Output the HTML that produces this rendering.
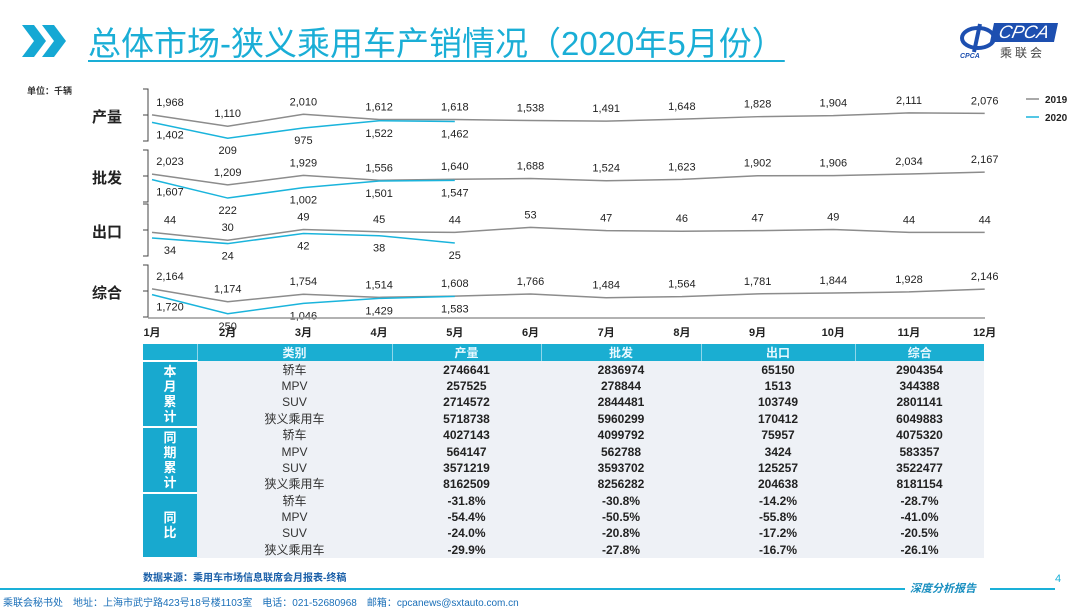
<!DOCTYPE html>
<html><head><meta charset="utf-8">
<style>
body{margin:0;width:1080px;height:608px;background:#fff;overflow:hidden;position:relative;font-family:"Liberation Sans","Noto Sans CJK SC",sans-serif;}
.abs{position:absolute}
#title{left:88px;top:17px;font-size:33px;color:#1aaed6;text-decoration:underline;text-decoration-thickness:2px;text-underline-offset:5px;white-space:nowrap;font-family:"Liberation Sans","Noto Sans CJK SC",sans-serif;}
table{position:absolute;left:143px;top:344px;width:841px;border-collapse:collapse;font-size:12px;}
td{height:16.4px;padding:0;text-align:center;line-height:16px;}
tr.hd td{background:#1aaed2;color:#e8f8ff;font-weight:bold;border-left:1px solid #8fd6ea}
td.g{background:#18a9cf;color:#fff;font-weight:bold;font-size:13px;line-height:15px;border-bottom:2px solid #fff;border-top:2px solid #fff}
td.c{color:#333}
td.n{font-weight:bold;color:#222}
tbody tr:not(.hd) td:not(.g){background:#eef1f6}
</style></head><body>
<svg class="abs" style="left:22px;top:25px" width="46" height="32">
<polygon points="0,0 12,0 24,16 12,32 0,32 12,16" fill="#15a8d4"/>
<polygon points="20,0 32,0 44,16 32,32 20,32 32,16" fill="#15a8d4"/>
</svg>
<div id="title" class="abs">总体市场-狭义乘用车产销情况（2020年5月份）</div>
<div class="abs" style="left:958px;top:22px;width:100px;height:38px">
<svg width="40" height="38" class="abs" style="left:0;top:0"><ellipse cx="20" cy="16" rx="16" ry="10" fill="none" stroke="#1d4fb0" stroke-width="4"/><path d="M22 2 L16 30" stroke="#1d4fb0" stroke-width="4"/><text x="2" y="36" font-size="7" fill="#1d4fb0" font-style="italic" font-weight="bold">CPCA</text></svg>
<div class="abs" style="left:34px;top:1px;width:64px;height:19px;background:#1d4fb0;color:#fff;font-size:18px;font-style:italic;line-height:19px;text-align:center;transform:skewX(-12deg)">CPCA</div>
<div class="abs" style="left:42px;top:22px;font-size:12px;color:#444;letter-spacing:3px">乘联会</div>
</div>
<div class="abs" style="left:27px;top:84px;font-size:9px;font-weight:bold;color:#333">单位：千辆</div>

<svg id="chart" class="abs" style="left:0;top:0" width="1080" height="340"></svg>

<table>
<colgroup><col style="width:54px"><col style="width:195px"><col style="width:149px"><col style="width:160px"><col style="width:154px"><col style="width:129px"></colgroup>
<tr class="hd"><td style="border-left:none"></td><td>类别</td><td>产量</td><td>批发</td><td>出口</td><td>综合</td></tr>
<tr><td class="g" rowspan="4">本<br>月<br>累<br>计</td><td class="c">轿车</td><td class="n">2746641</td><td class="n">2836974</td><td class="n">65150</td><td class="n">2904354</td></tr>
<tr><td class="c">MPV</td><td class="n">257525</td><td class="n">278844</td><td class="n">1513</td><td class="n">344388</td></tr>
<tr><td class="c">SUV</td><td class="n">2714572</td><td class="n">2844481</td><td class="n">103749</td><td class="n">2801141</td></tr>
<tr><td class="c">狭义乘用车</td><td class="n">5718738</td><td class="n">5960299</td><td class="n">170412</td><td class="n">6049883</td></tr>
<tr><td class="g" rowspan="4">同<br>期<br>累<br>计</td><td class="c">轿车</td><td class="n">4027143</td><td class="n">4099792</td><td class="n">75957</td><td class="n">4075320</td></tr>
<tr><td class="c">MPV</td><td class="n">564147</td><td class="n">562788</td><td class="n">3424</td><td class="n">583357</td></tr>
<tr><td class="c">SUV</td><td class="n">3571219</td><td class="n">3593702</td><td class="n">125257</td><td class="n">3522477</td></tr>
<tr><td class="c">狭义乘用车</td><td class="n">8162509</td><td class="n">8256282</td><td class="n">204638</td><td class="n">8181154</td></tr>
<tr><td class="g" rowspan="4">同<br>比</td><td class="c">轿车</td><td class="n">-31.8%</td><td class="n">-30.8%</td><td class="n">-14.2%</td><td class="n">-28.7%</td></tr>
<tr><td class="c">MPV</td><td class="n">-54.4%</td><td class="n">-50.5%</td><td class="n">-55.8%</td><td class="n">-41.0%</td></tr>
<tr><td class="c">SUV</td><td class="n">-24.0%</td><td class="n">-20.8%</td><td class="n">-17.2%</td><td class="n">-20.5%</td></tr>
<tr><td class="c">狭义乘用车</td><td class="n">-29.9%</td><td class="n">-27.8%</td><td class="n">-16.7%</td><td class="n">-26.1%</td></tr>
</table>

<div class="abs" style="left:143px;top:569px;font-size:10px;font-weight:bold;color:#1a5fa8">数据来源：乘用车市场信息联席会月报表-终稿</div>
<div class="abs" style="left:0;top:588px;width:905px;height:2px;background:#1ab0d8"></div>
<div class="abs" style="left:990px;top:588px;width:65px;height:2px;background:#1ab0d8"></div>
<div class="abs" style="left:910px;top:580px;font-size:11px;font-style:italic;font-weight:bold;color:#1a8fc0">深度分析报告</div>
<div class="abs" style="left:1055px;top:573px;font-size:11px;color:#1ab0d8">4</div>
<div class="abs" style="left:3px;top:594px;font-size:10px;color:#1a6fb8;white-space:nowrap">乘联会秘书处　地址：上海市武宁路423号18号楼1103室　电话：021-52680968　邮箱：cpcanews@sxtauto.com.cn</div>

<script>
const months=['1月','2月','3月','4月','5月','6月','7月','8月','9月','10月','11月','12月'];
const panelNames=['产量','批发','出口','综合'];
const prod2019=[1968,1110,2010,1612,1618,1538,1491,1648,1828,1904,2111,2076];
const prod2020=[1402,209,975,1522,1462];
const whole2019=[2023,1209,1929,1556,1640,1688,1524,1623,1902,1906,2034,2167];
const whole2020=[1607,222,1002,1501,1547];
const exp2019=[44,30,49,45,44,53,47,46,47,49,44,44];
const exp2020=[34,24,42,38,25];
const comb2019=[2164,1174,1754,1514,1608,1766,1484,1564,1781,1844,1928,2146];
const comb2020=[1720,250,1046,1429,1583];
const series2019=[prod2019,whole2019,exp2019,comb2019];
const series2020=[prod2020,whole2020,exp2020,comb2020];
const panelBase=[141,201,257,317];
const panelK=[0.0133,0.0133,0.56,0.013];
const NS='http://www.w3.org/2000/svg';
const svg=document.getElementById('chart');
function x(i){return 152+i*75.7;}
function y(p,v){return panelBase[p]-v*panelK[p];}
function mk(t,a){const e=document.createElementNS(NS,t);for(const k in a)e.setAttribute(k,a[k]);svg.appendChild(e);return e;}
function fmt(v){return v.toLocaleString('en-US');}
const tops=[89,150,204,265];
for(let p=0;p<4;p++){
  const br=mk('path',{d:`M143 ${tops[p]} H148 V${tops[p]+52} H143 M148 ${tops[p]+26} H143`,stroke:'#444',fill:'none','stroke-width':1});
  
  
  const pn=mk('text',{x:92,y:tops[p]+33,'font-size':15,'font-weight':'bold',fill:'#222'});
  pn.textContent=panelNames[p];
  
  
  const a=series2019[p],b=series2020[p];
  const l1=mk('polyline',{points:a.map((v,i)=>x(i)+','+y(p,v)).join(' '),fill:'none',stroke:'#8c8c8c','stroke-width':1.5});
  
  
  const l2=mk('polyline',{points:b.map((v,i)=>x(i)+','+y(p,v)).join(' '),fill:'none',stroke:'#1ab4dc','stroke-width':1.5});
  
  
  a.forEach((v,i)=>{const t=mk('text',{x:x(i)+(i==0?18:0),y:y(p,v)-9,'font-size':11,'text-anchor':'middle',fill:'#222'});t.textContent=fmt(v);
    
    });
  b.forEach((v,i)=>{const t=mk('text',{x:x(i)+(i==0?18:0),y:y(p,v)+16,'font-size':11,'text-anchor':'middle',fill:'#222'});t.textContent=fmt(v);
    
    });
}
const ax=mk('line',{x1:148,x2:985,y1:318,y2:318,stroke:'#999','stroke-width':1.5});


months.forEach((m,i)=>{const t=mk('text',{x:x(i),y:336,'font-size':11,'font-weight':'bold','text-anchor':'middle',fill:'#222'});t.textContent=m;
  
  });
[['2019','#8c8c8c',99],['2020','#1ab4dc',117]].forEach(([n,c,yy])=>{
  const g=mk('g',{});
  
  
  const l=document.createElementNS(NS,'line');l.setAttribute('x1',1026);l.setAttribute('x2',1039);l.setAttribute('y1',yy);l.setAttribute('y2',yy);l.setAttribute('stroke',c);l.setAttribute('stroke-width',1.5);g.appendChild(l);
  const t=document.createElementNS(NS,'text');t.setAttribute('x',1045);t.setAttribute('y',yy+4);t.setAttribute('font-size',10);t.setAttribute('font-weight','bold');t.setAttribute('fill','#222');t.textContent=n;g.appendChild(t);
});
</script>
</body></html>
